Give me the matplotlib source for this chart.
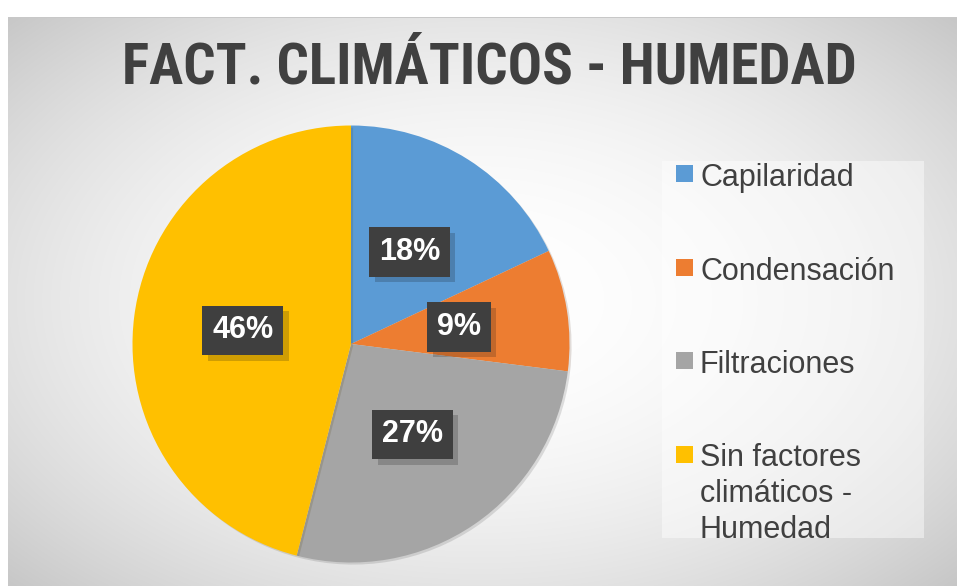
import numpy as np
import matplotlib
matplotlib.use("Agg")
import matplotlib.pyplot as plt
import matplotlib.patches as mpatches
import matplotlib.patheffects as pe
from matplotlib import font_manager as fm

# data
labels = ["Capilaridad", "Condensación", "Filtraciones", "Sin factores\nclimáticos -\nHumedad"]
values = [18, 9, 27, 46]
colors = ["#5b9bd5", "#ed7d31", "#a5a5a5", "#ffc000"]
title = "FACT. CLIMÁTICOS - HUMEDAD"

W, H = 957, 586
fig = plt.figure(figsize=(W / 100, H / 100), dpi=100)

# narrow font for the title, if one is around
names = {f.name for f in fm.fontManager.ttflist}
title_font = dict(family="DejaVu Sans", fontstretch="condensed", fontsize=36)
for cand in ["Liberation Sans Narrow", "Roboto Condensed", "Open Sans Condensed"]:
    if cand in names:
        title_font = dict(family=cand, fontstretch="normal", fontsize=41)
        break

# background: radial grey gradient inside the chart frame, white margin top/left
yy, xx = np.mgrid[0:H, 0:W]
d2 = ((xx - 480) / 480.0) ** 2 + ((yy - 300) / 300.0) ** 2
bg = np.clip(255 - 30 * d2, 190, 255)
bg[:17, :] = 255
bg[:, :8] = 255
bg[17, 8:] = 200
img = np.dstack([bg, bg, bg]).astype(np.uint8)
bgax = fig.add_axes([0, 0, 1, 1])
bgax.imshow(img, aspect="auto", interpolation="bilinear")
bgax.set_axis_off()

fig.text(489 / W, 1 - 83 / H, title, ha="center", va="baseline",
         fontweight="bold", color="#404040", **title_font)

# pie
ax = fig.add_axes([(351 - 218.5) / W, (H - 344 - 218.5) / H, 437 / W, 437 / H])
wedges, texts, autotexts = ax.pie(
    values, colors=colors, startangle=90, counterclock=False, radius=1,
    autopct="%1.0f%%", pctdistance=0.5,
    wedgeprops=dict(linewidth=0),
    textprops=dict(color="white", fontsize=22, fontweight="bold",
                   family="Liberation Sans"))
ax.set_xlim(-1, 1)
ax.set_ylim(-1, 1)
for w in wedges:
    w.set_path_effects([pe.SimplePatchShadow(offset=(1.5, -1.5), alpha=0.15), pe.Normal()])
for t in autotexts:
    t.set_bbox(dict(boxstyle="square,pad=0.32", fc="#3f3f3f", lw=0))
    t.get_bbox_patch().set_path_effects(
        [pe.SimplePatchShadow(offset=(4, -4), alpha=0.2), pe.Normal()])

# legend box and entries
fig.patches.append(mpatches.Rectangle((662 / W, 1 - 538 / H), 262 / W, 377 / H,
                                      transform=fig.transFigure, fc="white",
                                      alpha=0.45, lw=0, zorder=0))
for i, (lab, c) in enumerate(zip(labels, colors)):
    base = 185 + i * 93.5
    fig.patches.append(mpatches.Rectangle((676 / W, 1 - (base - 3) / H), 17 / W, 17 / H,
                                          transform=fig.transFigure, fc=c, lw=0))
    fig.text(700 / W, 1 - (base - 22) / H, lab, ha="left", va="top",
             fontsize=22, color="#404040", family="Liberation Sans",
             linespacing=1.24)

fig.savefig("out.png", dpi=100)
